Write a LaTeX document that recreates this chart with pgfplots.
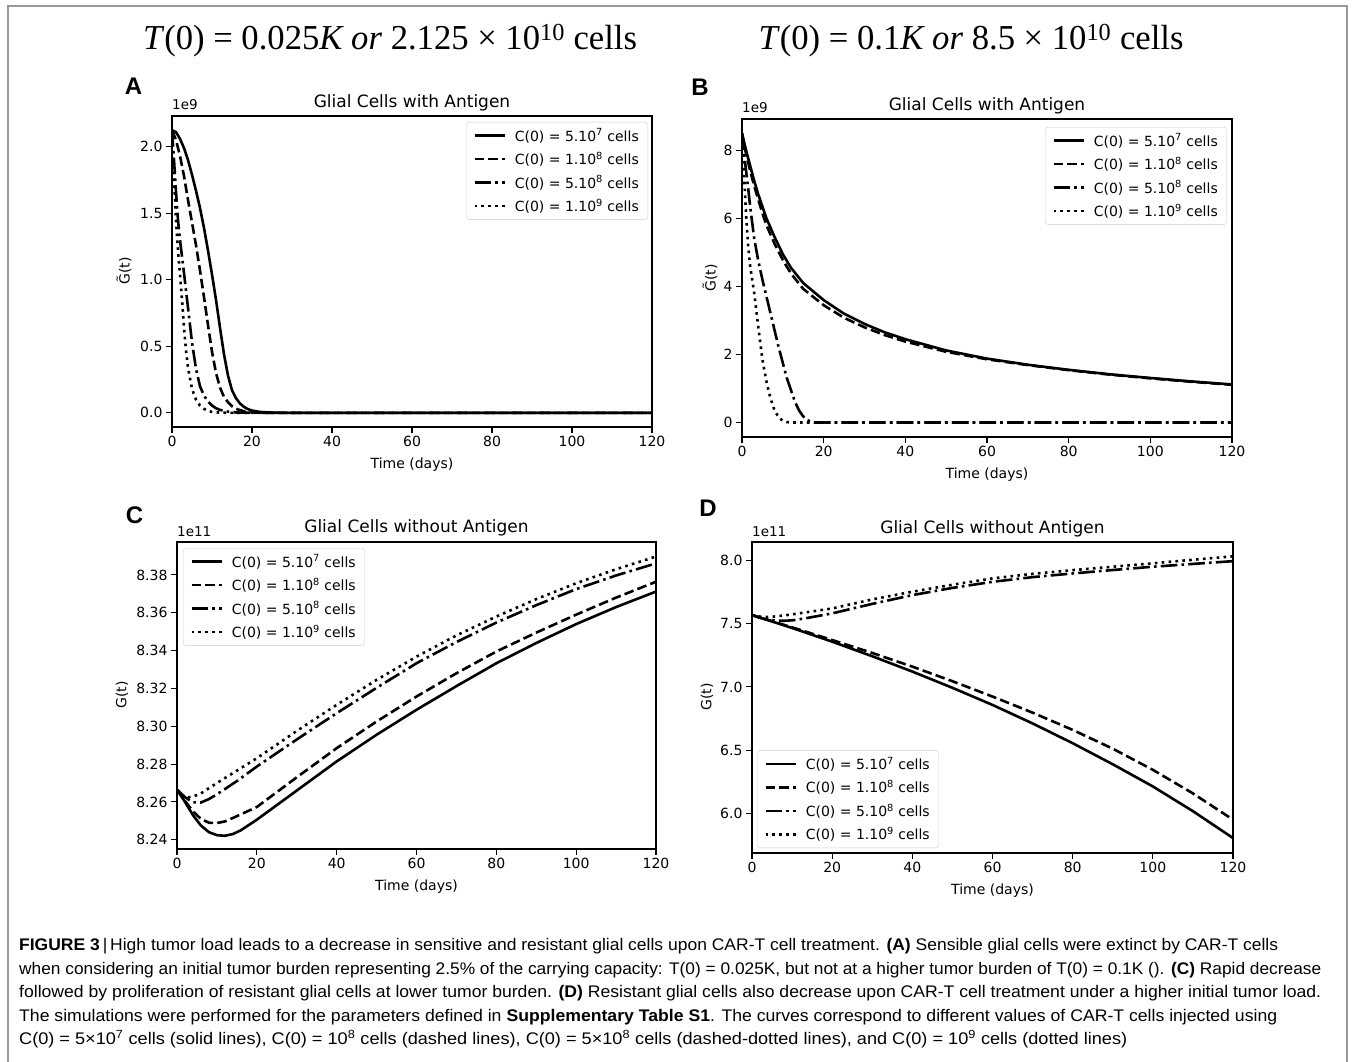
\documentclass[border=0pt]{standalone}
\usepackage{fontspec}
\setmainfont{DejaVu Sans}
\newfontfamily\capfont{Liberation Sans}
\newfontfamily\serfont{Liberation Serif}
\usepackage{graphicx}
\usepackage{pgfplots}
\pgfplotsset{compat=1.18}

% squeeze a line of text to a given width (in pt)
\newsavebox\fitbox
\newcommand\fitw[2]{\sbox\fitbox{#2}\pgfmathsetmacro\fitsx{#1/\the\wd\fitbox}\scalebox{\fitsx}[1]{\usebox\fitbox}}

\newcommand\tickf{\fontsize{14}{16}\selectfont}
\newcommand\titf{\fontsize{17}{20}\selectfont}
\newcommand\letf{\capfont\bfseries\fontsize{24}{26}\selectfont}
\newcommand\capf{\capfont\fontsize{16.8}{20}\selectfont}

\pgfplotsset{
  panel/.style={
    scale only axis, anchor=south west,
    xmin=0, xmax=120, xtick={0,20,...,120},
    tick pos=left, tick align=outside, major tick length=6pt,
    every tick/.style={black, line width=1.1pt},
    axis line style={line width=1.2pt},
    tick label style={font=\tickf},
    /pgf/number format/assume math mode=true,
    legend cell align=left,
    legend style={draw=black!20, rounded corners=3pt, fill=white,
      font=\tickf, inner xsep=7pt, inner ysep=4.5pt, row sep=5.5pt,
      nodes={inner sep=2pt}},
    legend image code/.code={\draw[##1] (0pt,0pt) -- (30pt,0pt); \path (37pt,0pt);},
  },
  s1/.style={black, line width=2.6pt},
  s2/.style={black, line width=2.6pt, dash pattern=on 9.6pt off 4.2pt},
  s3/.style={black, line width=2.6pt, dash pattern=on 16.6pt off 4.2pt on 2.6pt off 4.2pt},
  s4/.style={black, line width=2.6pt, dash pattern=on 2.6pt off 4.3pt},
}

\begin{document}
\begin{tikzpicture}
\useasboundingbox (0,0) rectangle (1354pt,-1062pt);
\fill[white] (0,0) rectangle (1354pt,-1062pt);
\draw[black!40, line width=1.5pt] (8pt,-1062pt) -- (8pt,-6pt) -- (1347pt,-6pt) -- (1347pt,-1062pt);

% column headings
\node[anchor=base, inner sep=0] at (390pt,-50pt) {\fitw{494}{\serfont\fontsize{35}{40}\selectfont \textit{T}(0) = 0.025\textit{K or} 2.125 × 10\textsuperscript{10} cells}};
\node[anchor=base, inner sep=0] at (971pt,-50pt) {\fitw{425}{\serfont\fontsize{35}{40}\selectfont \textit{T}(0) = 0.1\textit{K or} 8.5 × 10\textsuperscript{10} cells}};

% ---------------- A ----------------
\begin{axis}[panel, at={(172pt,-427pt)}, width=480pt, height=311pt,
  ymin=-0.10625, ymax=2.23125, ytick={0,0.5,1,1.5,2},
  yticklabel style={/pgf/number format/.cd, fixed, fixed zerofill, precision=1},
  legend style={at={(1,1)}, anchor=north east, xshift=-4pt, yshift=-6pt}]
\addplot[s1] coordinates {(0,2.125)(1,2.11)(2,2.06)(3,1.99)(4,1.90)(5,1.79)(6,1.67)(7,1.54)(8,1.39)(9,1.22)(10,1.04)(11,0.85)(12,0.64)(13,0.44)(14,0.28)(15,0.17)(16,0.11)(17,0.07)(18,0.045)(19,0.028)(20,0.017)(22,0.007)(25,0.002)(30,0)(120,0)};
\addplot[s2] coordinates {(0,2.125)(1,2.05)(2,1.93)(3,1.78)(4,1.60)(5,1.43)(6,1.26)(7,1.07)(8,0.87)(9,0.66)(10,0.46)(11,0.30)(12,0.19)(13,0.12)(14,0.08)(15,0.05)(16,0.03)(18,0.012)(20,0.004)(25,0)(120,0)};
\addplot[s3] coordinates {(0,2.125)(0.5,1.90)(1,1.66)(1.5,1.45)(2,1.30)(3,1.05)(4,0.79)(5,0.53)(6,0.33)(7,0.20)(8,0.13)(9,0.085)(10,0.055)(11,0.035)(12,0.022)(14,0.009)(16,0.003)(20,0)(120,0)};
\addplot[s4] coordinates {(0,2.125)(0.5,1.78)(1,1.45)(1.5,1.22)(2,1.04)(2.5,0.85)(3,0.64)(3.5,0.47)(4,0.34)(5,0.18)(6,0.10)(7,0.055)(8,0.03)(9,0.015)(10,0.007)(12,0.002)(15,0)(120,0)};
\legend{C(0) = 5.10\textsuperscript{7} cells, C(0) = 1.10\textsuperscript{8} cells, C(0) = 5.10\textsuperscript{8} cells, C(0) = 1.10\textsuperscript{9} cells}
\end{axis}
\node[anchor=base, font=\titf] at (412pt,-108pt) {Glial Cells with Antigen};
\node[anchor=base west, inner sep=0, font=\fontsize{13.5}{15}\selectfont] at (172pt,-110pt) {1e9};
\node[anchor=base, font=\tickf] at (412pt,-468pt) {Time (days)};
\node[rotate=90, font=\tickf] at (124pt,-271pt) {G̃(t)};
\node[font=\letf] at (133.5pt,-86.5pt) {A};

% ---------------- B ----------------
\begin{axis}[panel, at={(742pt,-437pt)}, width=490pt, height=318pt,
  ymin=-0.425, ymax=8.925, ytick={0,2,4,6,8},
  legend style={at={(1,1)}, anchor=north east, xshift=-5pt, yshift=-8pt}]
\addplot[s1] coordinates {(0,8.5)(1,8.0)(2,7.55)(3,7.1)(4,6.7)(5,6.35)(6,6.0)(8,5.45)(10,4.95)(12,4.55)(15,4.1)(20,3.6)(25,3.2)(30,2.9)(35,2.65)(40,2.45)(50,2.12)(60,1.88)(70,1.70)(80,1.55)(90,1.42)(100,1.31)(110,1.21)(120,1.12)};
\addplot[s2] coordinates {(0,8.5)(1,7.9)(2,7.4)(3,6.95)(4,6.55)(5,6.15)(6,5.8)(8,5.25)(10,4.78)(12,4.38)(15,3.93)(20,3.45)(25,3.08)(30,2.8)(35,2.57)(40,2.38)(50,2.08)(60,1.86)(70,1.69)(80,1.54)(90,1.41)(100,1.30)(110,1.20)(120,1.11)};
\addplot[s3] coordinates {(0,8.5)(0.5,7.9)(1,7.4)(1.5,6.9)(2,6.35)(3,5.4)(4,4.75)(5,4.2)(6,3.7)(7,3.2)(8,2.7)(9,2.2)(10,1.75)(11,1.3)(12,0.95)(13,0.6)(14,0.35)(15,0.18)(16,0.07)(17,0.02)(18,0)(120,0)};
\addplot[s4] coordinates {(0,8.5)(0.5,7.3)(1,6.1)(1.5,5.2)(2,4.6)(3,3.8)(4,2.8)(5,1.85)(6,1.2)(7,0.7)(8,0.35)(9,0.15)(10,0.05)(11,0.015)(12,0)(120,0)};
\legend{C(0) = 5.10\textsuperscript{7} cells, C(0) = 1.10\textsuperscript{8} cells, C(0) = 5.10\textsuperscript{8} cells, C(0) = 1.10\textsuperscript{9} cells}
\end{axis}
\node[anchor=base, font=\titf] at (987pt,-110.5pt) {Glial Cells with Antigen};
\node[anchor=base west, inner sep=0, font=\fontsize{13.5}{15}\selectfont] at (742pt,-113pt) {1e9};
\node[anchor=base, font=\tickf] at (987pt,-478pt) {Time (days)};
\node[rotate=90, font=\tickf] at (710pt,-278pt) {G̃(t)};
\node[font=\letf] at (700pt,-87.5pt) {B};

% ---------------- C ----------------
\begin{axis}[panel, at={(177pt,-849pt)}, width=479pt, height=307pt,
  ymin=8.2351, ymax=8.3974, ytick={8.24,8.26,8.28,8.30,8.32,8.34,8.36,8.38},
  yticklabel style={/pgf/number format/.cd, fixed, fixed zerofill, precision=2},
  legend style={at={(0,1)}, anchor=north west, xshift=6pt, yshift=-6pt}]
\addplot[s1] coordinates {(0,8.2665)(2,8.2600)(4,8.2530)(6,8.2475)(8,8.2440)(10,8.2424)(12,8.2421)(14,8.2430)(16,8.2450)(20,8.2506)(30,8.2660)(40,8.2814)(50,8.2955)(60,8.3087)(70,8.3212)(80,8.3333)(90,8.3440)(100,8.3540)(110,8.3630)(120,8.3712)};
\addplot[s2] coordinates {(0,8.2665)(2,8.2605)(4,8.2550)(6,8.2510)(8,8.2490)(10,8.2488)(12,8.2497)(14,8.2515)(20,8.2573)(30,8.2730)(40,8.2884)(50,8.3025)(60,8.3157)(70,8.3280)(80,8.3395)(90,8.3495)(100,8.3590)(110,8.3680)(120,8.3764)};
\addplot[s3] coordinates {(0,8.2665)(2,8.2625)(4,8.2598)(6,8.2597)(8,8.2615)(10,8.2640)(15,8.2710)(20,8.2787)(30,8.2930)(40,8.3069)(50,8.3203)(60,8.3333)(70,8.3445)(80,8.3548)(90,8.3640)(100,8.3725)(110,8.3797)(120,8.3861)};
\addplot[s4] coordinates {(0,8.2665)(1,8.2640)(2,8.2628)(3,8.2625)(4,8.2628)(6,8.2645)(10,8.2700)(15,8.2765)(20,8.2831)(30,8.2975)(40,8.3113)(50,8.3245)(60,8.3368)(70,8.3480)(80,8.3580)(90,8.3672)(100,8.3756)(110,8.3830)(120,8.3897)};
\legend{C(0) = 5.10\textsuperscript{7} cells, C(0) = 1.10\textsuperscript{8} cells, C(0) = 5.10\textsuperscript{8} cells, C(0) = 1.10\textsuperscript{9} cells}
\end{axis}
\node[anchor=base, font=\titf] at (416.5pt,-532.5pt) {Glial Cells without Antigen};
\node[anchor=base west, inner sep=0, font=\fontsize{13.5}{15}\selectfont] at (177pt,-536.5pt) {1e11};
\node[anchor=base, font=\tickf] at (416.5pt,-890pt) {Time (days)};
\node[rotate=90, font=\tickf] at (122pt,-695pt) {G(t)};
\node[font=\letf] at (134.5pt,-515.5pt) {C};

% ---------------- D ----------------
\begin{axis}[panel, at={(752pt,-853pt)}, width=481pt, height=311pt,
  ymin=5.69, ymax=8.143, ytick={6,6.5,7,7.5,8},
  yticklabel style={/pgf/number format/.cd, fixed, fixed zerofill, precision=1},
  legend style={at={(0,0)}, anchor=south west, xshift=5pt, yshift=5pt}]
\addplot[s1] coordinates {(0,7.567)(10,7.465)(20,7.357)(30,7.242)(40,7.121)(50,6.993)(60,6.858)(70,6.712)(80,6.556)(90,6.390)(100,6.215)(110,6.020)(120,5.808)};
\addplot[s2] coordinates {(0,7.567)(10,7.47)(20,7.37)(30,7.268)(40,7.16)(50,7.045)(60,6.924)(70,6.797)(80,6.661)(90,6.513)(100,6.346)(110,6.16)(120,5.953)};
\addplot[s3] coordinates {(0,7.567)(2,7.545)(4,7.530)(6,7.523)(8,7.522)(10,7.525)(14,7.545)(20,7.58)(30,7.655)(40,7.724)(50,7.781)(60,7.829)(70,7.866)(80,7.895)(90,7.922)(100,7.948)(110,7.970)(120,7.992)};
\addplot[s4] coordinates {(0,7.567)(2,7.555)(4,7.552)(6,7.556)(10,7.572)(20,7.619)(30,7.690)(40,7.751)(50,7.806)(60,7.856)(70,7.892)(80,7.921)(90,7.948)(100,7.975)(110,8.003)(120,8.030)};
\legend{C(0) = 5.10\textsuperscript{7} cells, C(0) = 1.10\textsuperscript{8} cells, C(0) = 5.10\textsuperscript{8} cells, C(0) = 1.10\textsuperscript{9} cells}
\end{axis}
\node[anchor=base, font=\titf] at (992.5pt,-533pt) {Glial Cells without Antigen};
\node[anchor=base west, inner sep=0, font=\fontsize{13.5}{15}\selectfont] at (752pt,-536pt) {1e11};
\node[anchor=base, font=\tickf] at (992.5pt,-894pt) {Time (days)};
\node[rotate=90, font=\tickf] at (707pt,-697pt) {G(t)};
\node[font=\letf] at (708pt,-508.5pt) {D};

% caption
\begin{scope}[every node/.style={anchor=base west, inner sep=0}]
\node at (19pt,-950pt) {\capf\fitw{1259}{\textbf{FIGURE 3}\,|\,High tumor load leads to a decrease in sensitive and resistant glial cells upon CAR-T cell treatment. \textbf{(A)} Sensible glial cells were extinct by CAR-T cells}};
\node at (19pt,-974pt) {\capf\fitw{1302}{when considering an initial tumor burden representing 2.5\% of the carrying capacity: T(0) = 0.025K, but not at a higher tumor burden of T(0) = 0.1K (). \textbf{(C)} Rapid decrease}};
\node at (19pt,-997.5pt) {\capf\fitw{1302}{followed by proliferation of resistant glial cells at lower tumor burden. \textbf{(D)} Resistant glial cells also decrease upon CAR-T cell treatment under a higher initial tumor load.}};
\node at (19pt,-1021pt) {\capf\fitw{1258}{The simulations were performed for the parameters defined in \textbf{Supplementary Table S1}. The curves correspond to different values of CAR-T cells injected using}};
\node at (19pt,-1044.5pt) {\capf\fitw{1108}{C(0) = 5×10\textsuperscript{7} cells (solid lines), C(0) = 10\textsuperscript{8} cells (dashed lines), C(0) = 5×10\textsuperscript{8} cells (dashed-dotted lines), and C(0) = 10\textsuperscript{9} cells (dotted lines)}};
\end{scope}
\end{tikzpicture}
\end{document}
